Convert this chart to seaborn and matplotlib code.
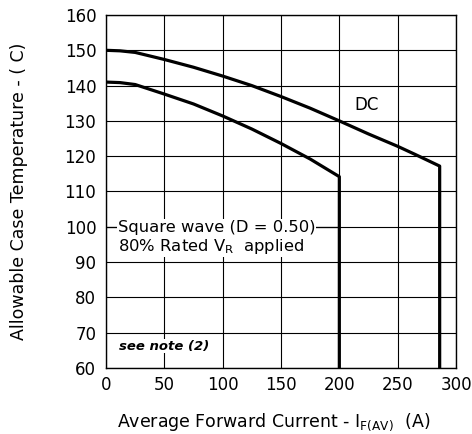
import matplotlib
matplotlib.use("Agg")
import matplotlib.pyplot as plt
import seaborn as sns
import pandas as pd

dc_current = [0, 12, 25, 50, 75, 100, 125, 150, 175, 200, 225, 250, 265, 286, 286]
dc_temp = [150, 149.85, 149.4, 147.4, 145.2, 142.7, 140.0, 136.9, 133.6, 130.0, 126.3, 122.8, 120.5, 117.2, 60]
sq_current = [0, 12, 25, 50, 75, 100, 125, 150, 175, 200, 200]
sq_temp = [141.0, 140.85, 140.3, 137.6, 134.8, 131.4, 127.7, 123.6, 119.2, 114.2, 60]
x_ticks = [0, 50, 100, 150, 200, 250, 300]
y_ticks = [60, 70, 80, 90, 100, 110, 120, 130, 140, 150, 160]

sns.set_style("white")
plt.rcParams['font.family'] = ['DejaVu Sans']
plt.rcParams['text.color'] = 'black'
plt.rcParams['axes.labelcolor'] = 'black'

fig = plt.figure(figsize=(4.72, 4.34), dpi=100)
ax = fig.add_axes([106/472, 1-368/434, 350/472, 353/434])

df_dc = pd.DataFrame({"I": dc_current, "T": dc_temp})
df_sq = pd.DataFrame({"I": sq_current, "T": sq_temp})
sns.lineplot(data=df_dc, x="I", y="T", sort=False, estimator=None, color="black", lw=2.3, ax=ax, zorder=5)
sns.lineplot(data=df_sq, x="I", y="T", sort=False, estimator=None, color="black", lw=2.3, ax=ax, zorder=5)

ax.set_xlim(0, 300)
ax.set_ylim(60, 160)
ax.set_xticks(x_ticks)
ax.set_yticks(y_ticks)
ax.grid(True, color="black", lw=0.8)
ax.set_axisbelow(True)
for s in ax.spines.values():
    s.set_color("black")
    s.set_linewidth(1.0)
ax.tick_params(axis="y", length=0, labelsize=12, colors="black", pad=7)
ax.tick_params(axis="x", length=0, labelsize=12, colors="black", pad=6)

ax.set_xlabel(r"Average Forward Current - I$_{\mathregular{F(AV)}}$  (A)", fontsize=12.5, color="black")
ax.set_ylabel("Allowable Case Temperature - ( C)", fontsize=12.5, color="black")
ax.yaxis.set_label_coords(-0.223, 0.5)
ax.xaxis.set_label_coords(0.48, -0.122)

# leader line for square wave annotation
ax.plot([0, 200], [100, 100], color="black", lw=0.9, zorder=3)
ax.text(10, 99.8, "Square wave (D = 0.50)", fontsize=11.8, va="center", ha="left", color="black",
        bbox=dict(facecolor="white", edgecolor="none", pad=0.5), zorder=4)
ax.text(10, 94.4, r"80% Rated V$_{\mathregular{R}}$  applied", fontsize=11.8, va="center", ha="left", color="black",
        bbox=dict(facecolor="white", edgecolor="none", pad=0.5), zorder=4)
ax.text(11, 66.2, "see note (2)", fontsize=9.5, fontweight="bold", fontstyle="italic", va="center", ha="left",
        color="black", bbox=dict(facecolor="white", edgecolor="none", pad=0.5), zorder=4)
ax.text(213, 134.5, "DC", fontsize=12, va="center", ha="left", color="black", zorder=4)

fig.savefig("out.png", dpi=100)
